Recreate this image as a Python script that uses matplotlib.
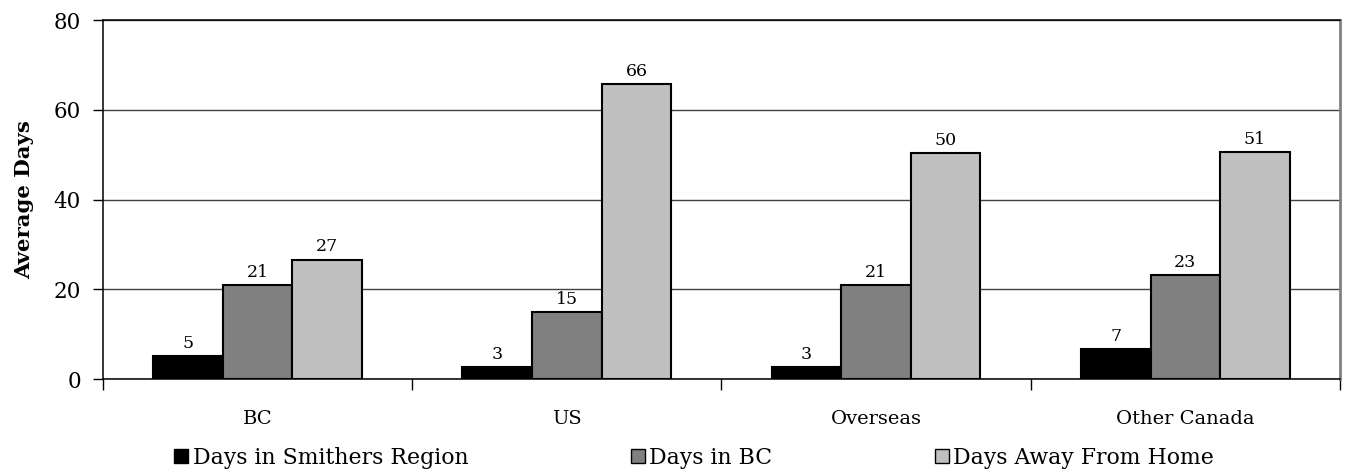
import numpy as np
import matplotlib
matplotlib.use("Agg")
import matplotlib.pyplot as plt
from matplotlib.patches import Patch

# Data
categories = ["BC", "US", "Overseas", "Other Canada"]
series_names = ["Days in Smithers Region", "Days in BC", "Days Away From Home"]
smithers = [5.2, 2.6, 2.7, 6.6]
in_bc = [20.9, 15.0, 21.0, 23.1]
away = [26.6, 65.8, 50.4, 50.6]
colors = ["#000000", "#808080", "#C0C0C0"]

plt.rcParams["font.family"] = ["DejaVu Serif"]

fig = plt.figure(figsize=(13.48, 4.72), dpi=100)
ax = fig.add_axes([0.0764, 0.197, 0.9176, 0.7606])

x = np.arange(len(categories))
width = 0.225
for i, (vals, c) in enumerate(zip([smithers, in_bc, away], colors)):
    bars = ax.bar(x + (i - 1) * width, vals, width, color=c, edgecolor="black",
                  linewidth=1.5, zorder=3)
    ax.bar_label(bars, fmt="%.0f", padding=3, fontsize=12.5)

ax.set_xlim(-0.5, len(categories) - 0.5)
ax.set_ylim(0, 80)
ax.set_yticks([0, 20, 40, 60, 80])
ax.yaxis.grid(True, color="#404040", linewidth=1.0, zorder=0)
ax.set_axisbelow(True)

# category labels in the middle, ticks on the boundaries
ax.set_xticks(x)
ax.set_xticklabels(categories, fontsize=14)
ax.tick_params(axis="x", which="major", length=0, pad=22)
ax.set_xticks(np.arange(-0.5, len(categories)), minor=True)
ax.tick_params(axis="x", which="minor", length=8, width=1, direction="out")
ax.tick_params(axis="y", length=7, width=1, direction="out", pad=9, labelsize=15.5)

for s in ax.spines.values():
    s.set_linewidth(1.1)
    s.set_color("black")
ax.spines["right"].set_color("#808080")
ax.spines["right"].set_linewidth(2)

ax.set_ylabel("Average Days", fontsize=15.3, fontweight="bold", labelpad=14)

handles = [Patch(facecolor=c, edgecolor="black", linewidth=1) for c in colors]
fig.legend(handles, series_names, loc="center", bbox_to_anchor=(0.515, 0.03),
           ncol=3, frameon=False, fontsize=15.8, handlelength=0.64, handleheight=0.64,
           handletextpad=0.2, columnspacing=7.4, borderpad=0)

fig.savefig("out.png", dpi=100)
